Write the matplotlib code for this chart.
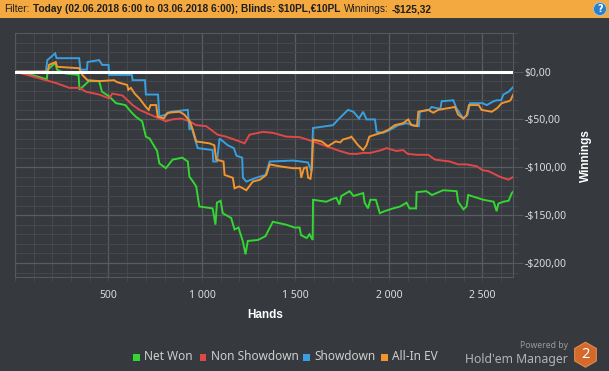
import matplotlib
matplotlib.use("Agg")
import matplotlib.pyplot as plt
from matplotlib.ticker import MultipleLocator, FuncFormatter
from matplotlib.patches import Rectangle, Circle, RegularPolygon

# hand number / winnings pairs
net_won_hands = [0, 100, 170, 175, 215, 225, 270, 340, 345, 395, 450, 465, 504, 540, 590, 620,
                 645, 680, 700, 720, 760, 772, 807, 843, 895, 924, 933, 945, 969, 977, 986,
                 1057, 1072, 1080, 1100, 1111, 1156, 1174, 1195, 1218, 1233, 1245, 1299, 1340,
                 1350, 1379, 1450, 1495, 1522, 1530, 1560, 1575, 1592, 1594, 1665, 1700, 1719,
                 1735, 1745, 1790, 1810, 1862, 1870, 1888, 1900, 1930, 1951, 1975, 2022, 2060,
                 2094, 2110, 2145, 2148, 2200, 2230, 2290, 2362, 2370, 2398, 2415, 2424, 2505,
                 2560, 2576, 2585, 2612, 2640, 2657, 2665]
net_won = [0, -4, -8, 2, 9, 2, -2, -3.5, -19, -10, -10, -21, -26, -33, -35, -42,
           -47, -52, -68, -70, -83, -96, -101, -92, -90, -94, -110, -113, -120, -130, -141,
           -143, -160, -137, -135, -148, -153, -165, -163, -177, -191, -177, -176, -172,
           -168, -157, -160, -163, -163, -171, -174, -170, -176, -134, -136, -133, -132,
           -139, -130, -125, -130, -127, -137, -143, -134, -134, -148, -146, -143, -141,
           -137, -143, -143, -126, -125, -129, -124, -125, -136, -144, -141, -129, -134,
           -136, -146, -138, -136, -135, -127, -125.32]

non_sd_hands = [0, 93, 165, 220, 290, 345, 379, 450, 504, 520, 575, 602, 629, 665, 700, 772,
                807, 840, 888, 933, 969, 1022, 1084, 1129, 1201, 1228, 1254, 1326, 1379, 1451,
                1522, 1594, 1665, 1737, 1790, 1830, 1862, 1900, 1960, 1987, 2040, 2076, 2100,
                2150, 2210, 2246, 2326, 2370, 2416, 2470, 2500, 2532, 2594, 2639, 2665]
non_sd = [0, -5, -9, -12, -17, -17, -21, -24, -28, -23, -25, -30, -35, -40, -43, -49,
          -52, -50, -49, -52, -56, -57, -66, -68, -73, -75, -66, -63, -64, -68,
          -68.5, -73, -78, -83, -86, -86, -85, -85, -82, -80, -83, -82, -86,
          -87, -87, -92, -94, -97, -97, -99, -103, -104, -110, -113, -110]

sd_hands = [0, 165, 173, 215, 222, 343, 350, 385, 388, 450, 466, 500, 504, 625, 629, 695,
            700, 765, 772, 805, 834, 924, 933, 942, 977, 1057, 1060, 1080, 1094, 1138, 1170,
            1185, 1215, 1219, 1237, 1290, 1340, 1362, 1487, 1530, 1567, 1585, 1594, 1701,
            1729, 1750, 1781, 1810, 1840, 1862, 1880, 1925, 1934, 1970, 2005, 2050, 2094,
            2130, 2160, 2165, 2215, 2228, 2275, 2282, 2344, 2360, 2398, 2420, 2434, 2500,
            2523, 2560, 2576, 2600, 2612, 2640, 2665]
sd = [0, 0, 12, 19, 14, 14, 2, 2, 10, 12, 7, 7, -3.5, -3.5, -9, -9,
      -24, -24, -47, -45, -42, -40, -61, -57, -80, -82, -94, -94, -70, -77, -80,
      -88, -90, -111, -115, -111, -108, -94, -93, -94, -95, -104, -59, -56,
      -50, -46, -40, -42, -49, -42, -50, -50, -63, -64, -61, -56, -54,
      -56, -57, -42, -40, -37, -39, -31, -30, -38, -49, -45, -33, -33,
      -35, -31, -30, -30, -24, -21, -16]

ev_hands = [0, 175, 182, 218, 225, 343, 360, 388, 450, 530, 545, 600, 606, 620, 640, 665,
            700, 715, 725, 755, 763, 795, 816, 880, 906, 935, 951, 969, 1040, 1066, 1076,
            1115, 1121, 1165, 1174, 1200, 1237, 1272, 1310, 1344, 1362, 1415, 1487, 1525,
            1531, 1545, 1560, 1568, 1580, 1588, 1594, 1640, 1674, 1715, 1740, 1754, 1790,
            1799, 1835, 1862, 1880, 1895, 1925, 1960, 1995, 2031, 2075, 2103, 2120, 2150,
            2157, 2210, 2237, 2264, 2353, 2370, 2398, 2415, 2428, 2480, 2495, 2550, 2580,
            2603, 2640, 2650, 2665]
ev = [0, 0, 7, 10, 5, 3.5, -3.5, -9, -10, -9, -11, -14, -19, -17, -23, -28,
      -37, -40, -35, -35, -47, -49, -43, -42, -45, -52, -61, -73, -75, -77, -92,
      -94, -108, -111, -122, -120, -124, -115, -113, -108, -97, -99, -101, -101,
      -111, -101, -100, -111, -112, -101, -71, -73, -78, -73, -74, -71, -69,
      -68, -77, -82, -77, -68, -66, -64, -61, -56, -54, -50, -56, -57,
      -42, -40, -43, -40, -37, -45, -49, -46, -35, -35, -40, -42, -38,
      -33, -31, -30, -24]

series_names = ["Net Won", "Non Showdown", "Showdown", "All-In EV"]
series_colors = ["#33d633", "#e04848", "#3a9fe0", "#f2952f"]

BG = "#36393d"
W, H = 609, 371


def px(x, y):
    # pixel position (from top left) -> inches for dpi_scale_trans
    return x / 100, (H - y) / 100


fig = plt.figure(figsize=(W / 100, H / 100), dpi=100, facecolor=BG)
ax = fig.add_axes([15 / W, 1 - 277.3 / H, (513.3 - 15) / W, (277.3 - 33.3) / H])
ax.set_facecolor(BG)

data = [(net_won_hands, net_won), (non_sd_hands, non_sd), (sd_hands, sd), (ev_hands, ev)]
for (xs, ys), c in zip(data, series_colors):
    ax.plot(xs, ys, color=c, lw=1.4, solid_joinstyle="miter")
ax.axhline(0, color="white", lw=2.2, zorder=5)

ax.set_xlim(0, 2665)
ax.set_ylim(-215, 40)
ax.xaxis.set_major_locator(MultipleLocator(500))
ax.xaxis.set_minor_locator(MultipleLocator(100))
ax.yaxis.set_major_locator(MultipleLocator(50))
ax.yaxis.set_minor_locator(MultipleLocator(10))
ax.grid(which="major", color="#595c60", lw=0.9)
ax.grid(which="minor", color="#45484c", lw=0.8)
ax.set_axisbelow(True)
for s in ax.spines.values():
    s.set_color("#55585c")
    s.set_linewidth(0.8)

ax.yaxis.tick_right()


def money(v, pos):
    s = "{:.2f}".format(abs(v)).replace(".", ",")
    return ("-\\$" if v < 0 else "\\$") + s


def hands(v, pos):
    return "{:,}".format(int(v)).replace(",", " ") if v > 0 else ""


ax.yaxis.set_major_formatter(FuncFormatter(money))
ax.xaxis.set_major_formatter(FuncFormatter(hands))
ax.tick_params(axis="y", which="major", length=7, width=0.8, color="#55585c", pad=1,
               labelsize=7.5, labelcolor="#dcdcdc")
ax.tick_params(axis="y", which="minor", length=3.6, width=0.8, color="#45484c")
ax.tick_params(axis="x", which="both", length=3, width=0.8, color="#45484c", pad=6,
               labelsize=7.5, labelcolor="#dcdcdc")
for lab in ax.get_xticklabels() + ax.get_yticklabels():
    lab.set_family("Noto Sans")

# header bar
fig.add_artist(Rectangle(px(0, 18), W / 100, 0.18, transform=fig.dpi_scale_trans,
                         facecolor="#f3a940", edgecolor="none"))
parts = [("Filter:", "normal"),
         ("Today (02.06.2018 6:00 to 03.06.2018 6:00); Blinds: \\$10PL,€10PL", "bold"),
         ("Winnings:", "normal"),
         ("-\\$125,32", "bold")]
renderer = fig.canvas.get_renderer()
x0 = 4
for txt, wt in parts:
    t = fig.text(*px(x0, 9.5), txt, transform=fig.dpi_scale_trans, fontsize=7.3,
                 fontweight=wt, family="Liberation Sans", color="#1e1e1e", va="center")
    x0 += t.get_window_extent(renderer).width + 3.5
fig.add_artist(Circle(px(600, 9), 0.065, transform=fig.dpi_scale_trans,
                      facecolor="#2a7fc8", edgecolor="#9cc8ee", lw=0.6))
fig.text(*px(600, 9), "?", transform=fig.dpi_scale_trans, fontsize=7, fontweight="bold",
         color="white", ha="center", va="center")

# axis titles
fig.text(*px(265, 315.5), "Hands", transform=fig.dpi_scale_trans, fontsize=8.5,
         fontweight="bold", color="white", ha="center", va="center", family="Liberation Sans")
fig.text(*px(586, 156), "Winnings", transform=fig.dpi_scale_trans, fontsize=8.5,
         fontweight="bold", color="white", ha="center", va="center", rotation=90,
         family="Liberation Sans")

# legend
legend_x = [136, 203, 306, 384]
for name, c, lx in zip(series_names, series_colors, legend_x):
    fig.add_artist(Rectangle(px(lx - 3.5, 360.5), 0.07, 0.07, transform=fig.dpi_scale_trans,
                             facecolor=c, edgecolor="none"))
    fig.text(*px(lx + 8, 357), name, transform=fig.dpi_scale_trans, fontsize=8.5,
             color="#cfcfcf", va="center", family="Noto Sans")

# branding
fig.text(*px(568, 345.5), "Powered by", transform=fig.dpi_scale_trans, fontsize=6.2,
         color="#9a9a9a", ha="right", va="center", family="Noto Sans")
fig.text(*px(568, 359), "Hold'em Manager", transform=fig.dpi_scale_trans, fontsize=8.8,
         color="#b4b4b4", ha="right", va="center", family="Noto Sans")
fig.add_artist(RegularPolygon(px(585.5, 354.7), 6, radius=0.125, orientation=0,
                              transform=fig.dpi_scale_trans, facecolor="#d4692a",
                              edgecolor="#e08a55", lw=0.8))
fig.text(*px(585.5, 355), "2", transform=fig.dpi_scale_trans, fontsize=10.5,
         fontweight="bold", color="white", ha="center", va="center", family="Noto Sans")

fig.savefig("out.png", dpi=100, facecolor=BG)
